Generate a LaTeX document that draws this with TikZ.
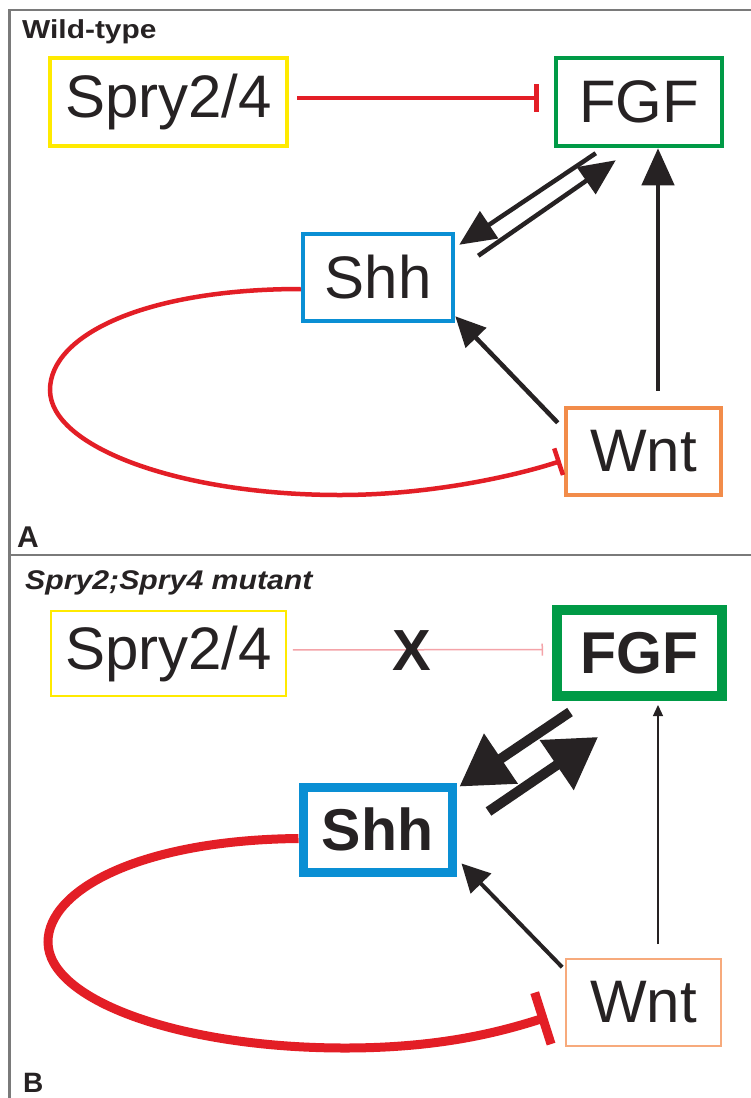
\documentclass[tikz,border=0pt]{standalone}
\usepackage{fontspec}
\setmainfont{Liberation Sans}
\usepackage{graphicx}
\usetikzlibrary{arrows.meta,calc}
\definecolor{ink}{HTML}{262223}
\definecolor{framec}{HTML}{7A7A7A}
\definecolor{yel}{HTML}{FFEA00}
\definecolor{grn}{HTML}{009A46}
\definecolor{blu}{HTML}{0A8FD4}
\definecolor{org}{HTML}{F28C4A}
\definecolor{orgl}{HTML}{F7AA7C}
\definecolor{rd}{HTML}{E31E26}
\definecolor{pnk}{HTML}{F4A3A8}
\begin{document}
\begin{tikzpicture}[x=1pt,y=-1pt,
  box/.style={draw, rectangle, inner sep=0pt, text=ink, font={\fontsize{60}{60}\selectfont}},
  boldbox/.style={box, font={\fontsize{59}{60}\selectfont\bfseries}},
  frame/.style={draw=framec, line width=2.5pt},
  act/.style={draw=ink, line width=4.5pt},
  inh/.style={draw=rd, line width=4.5pt},
  lbl/.style={anchor=base west, inner sep=0pt, text=ink}]
\useasboundingbox (0,0) rectangle (751,1098);
\fill[white] (0,0) rectangle (751,1098);
% frames
\draw[frame] (9.5,1098) -- (9.5,10) -- (751,10);
\draw[frame] (9.5,555) -- (751,555);

% ---------- Panel A ----------
\node[lbl] (wt) at (22,38) {\fontsize{26}{26}\selectfont\bfseries\scalebox{1.15}[1]{Wild-type}};
\node[lbl] (labA) at (17,547) {\fontsize{30}{30}\selectfont\bfseries A};

\node[box, draw=yel, line width=4.5pt, minimum width=237pt, minimum height=88pt] (spryA) at (168.5,102) {Spry2/4};
\node[box, draw=grn, line width=4.5pt, minimum width=166pt, minimum height=88pt] (fgfA) at (639,102) {FGF};
\node[box, draw=blu, line width=4.5pt, minimum width=150pt, minimum height=87pt] (shhA) at (378,277.5) {Shh};
\node[box, draw=org, line width=4.5pt, minimum width=155pt, minimum height=87pt] (wntA) at (643.5,451.5) {Wnt};

\draw[inh, -{Bar[width=28pt]}, shorten <=8pt, shorten >=15pt]
  ([yshift=4pt]spryA.east) -- ([yshift=4pt]fgfA.west);
\draw[act, -{Triangle[length=36pt,width=32pt]}]
  ($(fgfA.south west)+(42,5)$) -- ($(shhA.north east)+(4,13)$);
\draw[act, -{Triangle[length=36pt,width=32pt]}]
  ($(shhA.north east)+(23,24)$) -- ($(fgfA.south west)+(62,12)$);
\draw[act, -{Triangle[length=37pt,width=32pt]}]
  ($(wntA.north)+(14.5,-15)$) -- ($(fgfA.south)+(19,0)$);
\draw[act, -{Triangle[length=30pt,width=28pt]}]
  ($(wntA.north west)+(-6,17)$) -- ($(shhA.south east)+(0,-7)$);
\draw[inh, -{Bar[width=28pt]}]
  ([yshift=-11.5pt]shhA.west) .. controls (145,289) and (50,335) .. (50,390)
  .. controls (50,447) and (180,495) .. (340,495)
  .. controls (430,495) and (515,476) .. ($(wntA.west)+(-3,9.5)$);

% ---------- Panel B ----------
\node[lbl] (mut) at (25,589) {\fontsize{27}{27}\selectfont\bfseries\itshape\scalebox{1.12}[1]{Spry2;Spry4 mutant}};
\node[lbl] (labB) at (23,1092) {\fontsize{28}{28}\selectfont\bfseries B};

\node[box, draw=yel, line width=1.5pt, minimum width=235pt, minimum height=85pt] (spryB) at (168.5,653.5) {Spry2/4};
\node[boldbox, draw=grn, line width=10pt, minimum width=165pt, minimum height=86pt] (fgfB) at (639.5,653) {FGF};
\node[boldbox, draw=blu, line width=9pt, minimum width=149pt, minimum height=85pt] (shhB) at (377.5,829.5) {Shh};
\node[box, draw=orgl, line width=1.7pt, minimum width=155pt, minimum height=87pt] (wntB) at (643.5,1002.5) {Wnt};

\draw[draw=pnk, line width=1.5pt, -{Bar[width=12pt]}, shorten <=6pt, shorten >=9pt]
  ([yshift=3.5pt]spryB.east) -- ([yshift=3.5pt]fgfB.west);
\node[inner sep=0pt, text=ink, font={\fontsize{58}{58}\selectfont\bfseries}] (xmark) at (412,651) {X};

\draw[draw=ink, line width=10pt, -{Triangle[length=50pt,width=58pt]}]
  ($(fgfB.south west)+(18,11)$) -- ($(shhB.north east)+(3,4)$);
\draw[draw=ink, line width=10pt, -{Triangle[length=50pt,width=58pt]}]
  ($(shhB.north east)+(32,29)$) -- ($(fgfB.south west)+(46,36)$);
\draw[draw=ink, line width=1.3pt, -{Triangle[length=11pt,width=10pt]}]
  ($(wntB.north)+(14.5,-14)$) -- ($(fgfB.south)+(18.5,4)$);
\draw[draw=ink, line width=4pt, -{Triangle[length=28pt,width=28pt]}]
  ($(wntB.north west)+(-3,9)$) -- ($(shhB.south east)+(5,-13)$);
\draw[draw=rd, line width=9pt, -{Bar[width=54pt]}]
  ([yshift=-9pt]shhB.west) .. controls (140,840) and (48,890) .. (48,942)
  .. controls (48,1000) and (180,1048) .. (345,1048)
  .. controls (440,1048) and (500,1032) .. ($(wntB.west)+(-18,14.5)$);
\end{tikzpicture}
\end{document}
